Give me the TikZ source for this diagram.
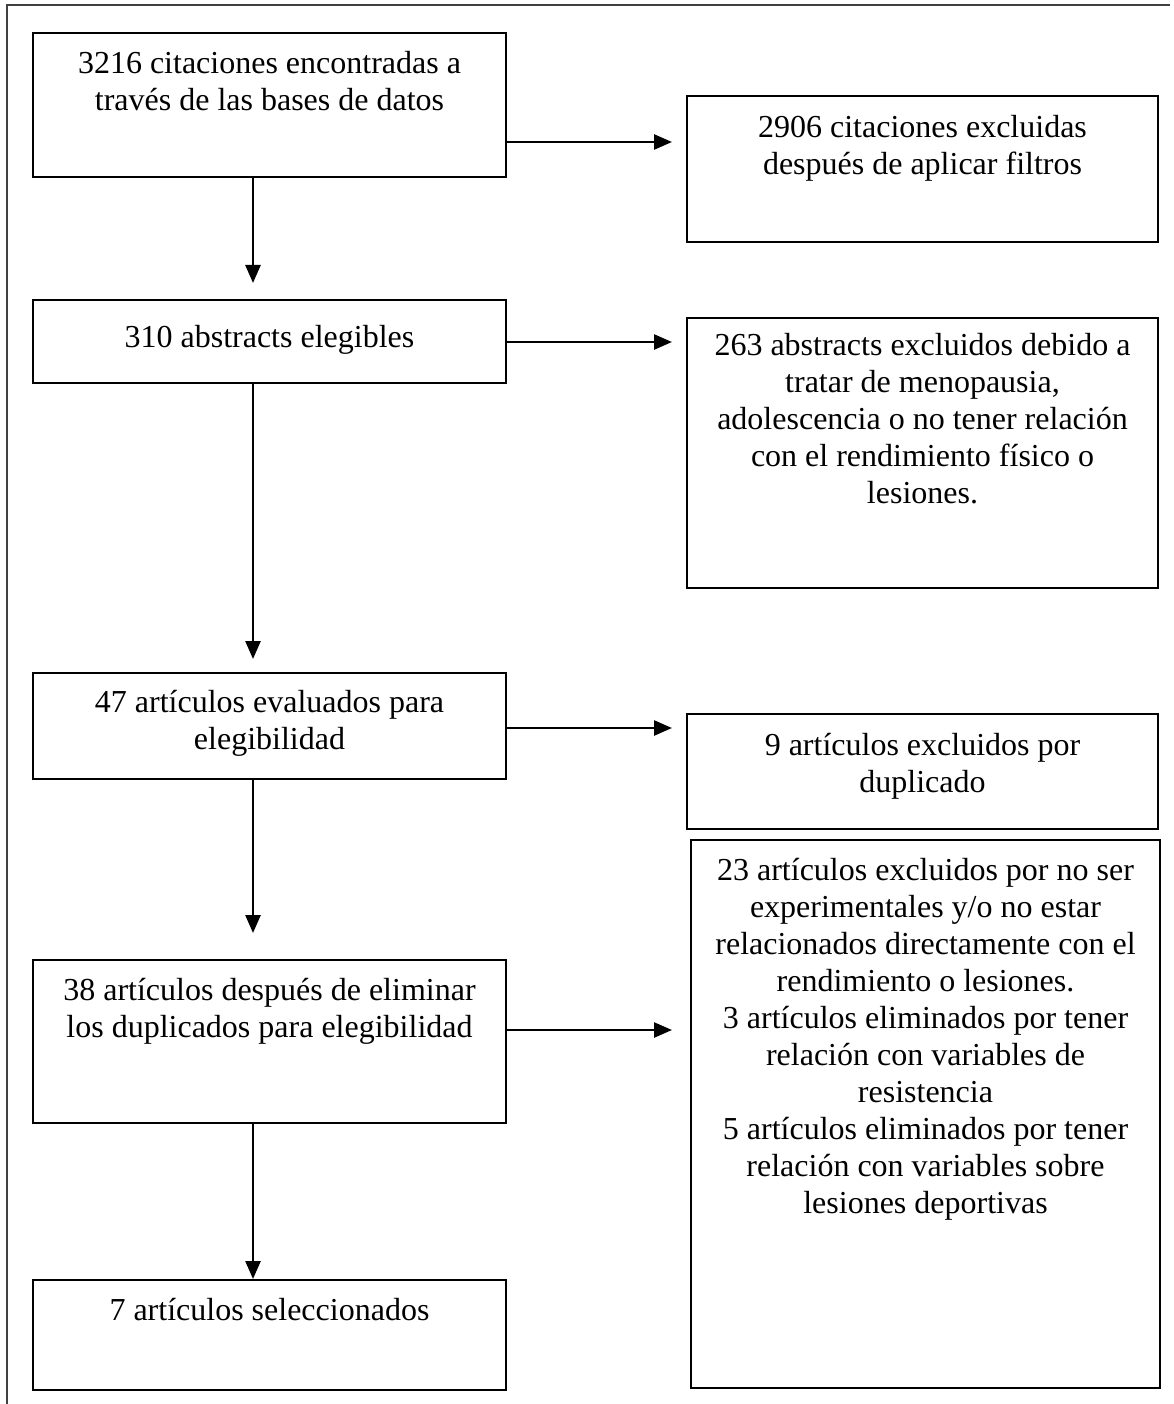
\documentclass[tikz,border=0pt]{standalone}
\usepackage{fontspec}
\setmainfont{Liberation Serif}
\usetikzlibrary{arrows.meta}
\newcommand{\boxtext}[4]{\parbox[c][#2pt][t]{#1pt}{\centering\vspace*{#3pt}#4\par}}
\tikzset{
  flowbox/.style={draw=black, line width=2pt, inner sep=0pt, anchor=north west, font=\fontsize{32}{37}\selectfont},
  conn/.style={line width=2.5pt, -{Triangle[length=18pt,width=15pt]}},
  frame/.style={draw=black!75, line width=1.5pt}
}
\begin{document}
\begin{tikzpicture}[x=1pt,y=-1pt]
\useasboundingbox (0,0) rectangle (1173,1404);
\draw[frame] (7,1404) -- (7,5) -- (1170,5);
% left column
\node[flowbox] (b1) at (32,32) {\boxtext{473}{144}{15}{\strut 3216 citaciones encontradas a\\ \strut través de las bases de datos}};
\node[flowbox] (b2) at (32,299) {\boxtext{473}{83}{22}{\strut 310 abstracts elegibles}};
\node[flowbox] (b3) at (32,672) {\boxtext{473}{106}{14}{\strut 47 artículos evaluados para\\ \strut elegibilidad}};
\node[flowbox] (b4) at (32,959) {\boxtext{473}{163}{15}{\strut 38 artículos después de eliminar\\ \strut los duplicados para elegibilidad}};
\node[flowbox] (b5) at (32,1279) {\boxtext{473}{110}{15}{\strut 7 artículos seleccionados}};
% right column
\node[flowbox] (r1) at (686,95) {\boxtext{471}{146}{16}{\strut 2906 citaciones excluidas\\ \strut después de aplicar filtros}};
\node[flowbox] (r2) at (686,317) {\boxtext{471}{270}{12}{\strut 263 abstracts excluidos debido a\\ \strut tratar de menopausia,\\ \strut adolescencia o no tener relación\\ \strut con el rendimiento físico o\\ \strut lesiones.}};
\node[flowbox] (r3) at (686,713) {\boxtext{471}{115}{16}{\strut 9 artículos excluidos por\\ \strut duplicado}};
\node[flowbox] (r4) at (690,839) {\boxtext{469}{548}{15}{\strut 23 artículos excluidos por no ser\\ \strut experimentales y/o no estar\\ \strut relacionados directamente con el\\ \strut rendimiento o lesiones.\\ \strut 3 artículos eliminados por tener\\ \strut relación con variables de\\ \strut resistencia\\ \strut 5 artículos eliminados por tener\\ \strut relación con variables sobre\\ \strut lesiones deportivas}};
% arrow end points
\coordinate (h1) at (672,142);
\coordinate (h2) at (672,342);
\coordinate (h3) at (672,728);
\coordinate (h4) at (672,1030);
\coordinate (v1) at (253,283);
\coordinate (v2) at (253,659);
\coordinate (v3) at (253,933);
% horizontal connectors
\draw[conn] (b1.east |- h1) -- (h1);
\draw[conn] (b2.east |- h2) -- (h2);
\draw[conn] (b3.east |- h3) -- (h3);
\draw[conn] (b4.east |- h4) -- (h4);
% vertical connectors
\draw[conn] (b1.south -| v1) -- (v1);
\draw[conn] (b2.south -| v2) -- (v2);
\draw[conn] (b3.south -| v3) -- (v3);
\draw[conn] (b4.south -| v3) -- (b5.north -| v3);
\end{tikzpicture}
\end{document}
